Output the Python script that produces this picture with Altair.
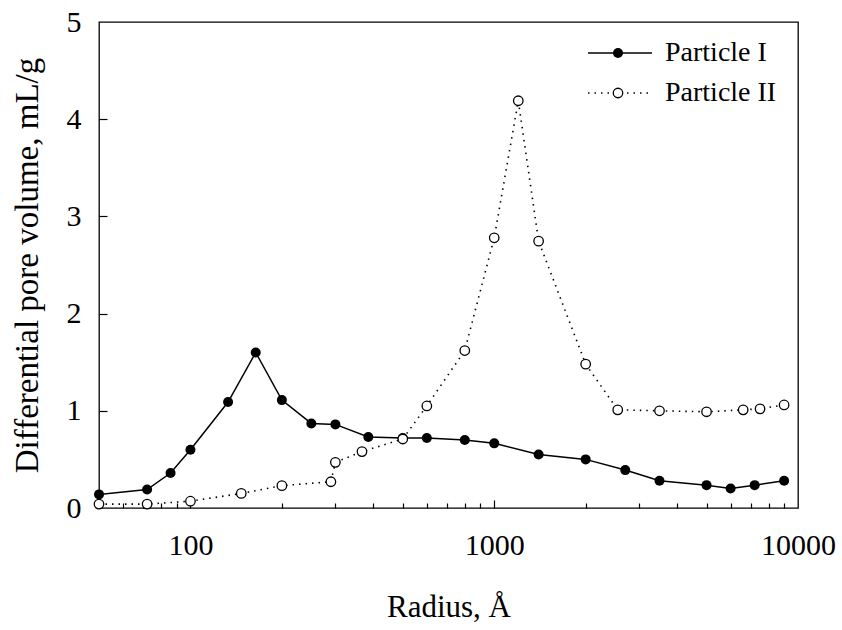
import altair as alt
import pandas as pd

# Particle I (filled circles, solid line)
radius_1 = [50, 72, 86, 100, 133, 164, 200, 250, 300, 385, 500, 600, 800, 1000,
            1400, 2000, 2700, 3500, 5000, 6000, 7200, 9000]
volume_1 = [0.14, 0.19, 0.36, 0.60, 1.09, 1.60, 1.11, 0.87, 0.86, 0.73, 0.72, 0.72,
            0.70, 0.665, 0.55, 0.50, 0.39, 0.28, 0.235, 0.20, 0.235, 0.28]

# Particle II (open circles, dotted line)
radius_2 = [50, 72, 100, 147, 200, 290, 300, 367, 500, 600, 800, 1000, 1200, 1400,
            2000, 2550, 3500, 5000, 6600, 7500, 9000]
volume_2 = [0.04, 0.04, 0.07, 0.15, 0.23, 0.27, 0.47, 0.58, 0.71, 1.05, 1.62, 2.78,
            4.19, 2.745, 1.48, 1.01, 1.00, 0.99, 1.01, 1.02, 1.06]

series_names = ["Particle I", "Particle II"]
x_labels = [100, 1000, 10000]
x_minor = [60, 70, 80, 90, 200, 300, 400, 500, 600, 700, 800, 900,
           2000, 3000, 4000, 5000, 6000, 7000, 8000, 9000]
x_major = [100, 1000]
y_labels = [0, 1, 2, 3, 4, 5]
y_major = [1, 2, 3, 4]

df1 = pd.DataFrame({"r": radius_1, "v": volume_1})
df2 = pd.DataFrame({"r": radius_2, "v": volume_2})

FONT = "Liberation Serif"
W, H = 699, 486

xs = alt.Scale(type="log", domain=[50, 10000], nice=False)
ys = alt.Scale(domain=[0, 5], nice=False, zero=False)

ax_x_main = alt.Axis(orient="bottom", values=x_labels, format="d", labelFontSize=30,
                     labelFont=FONT, labelPadding=22, labelFlush=False,
                     labelColor="black", ticks=False, domain=False, grid=False,
                     title="Radius, Å", titleFont=FONT, titleFontSize=31,
                     titleFontWeight="normal", titleColor="black", titleX=W / 2,
                     titleY=108, titleBaseline="alphabetic", titleAlign="center")
ax_y_main = alt.Axis(orient="left", values=y_labels, format="d", labelFontSize=30,
                     labelFont=FONT, labelPadding=18, labelFlush=False,
                     labelColor="black", ticks=False, domain=False, grid=False,
                     title="Differential pore volume, mL/g", titleFont=FONT,
                     titleFontSize=33, titleFontWeight="normal", titleColor="black",
                     titleX=-62, titleY=H / 2, titleAngle=270,
                     titleBaseline="alphabetic", titleAlign="center")
ax_x_minor = alt.Axis(orient="bottom", values=x_minor, offset=-5, tickSize=5,
                      tickColor="black", tickWidth=1.2, labels=False, domain=False,
                      grid=False, title="")
ax_x_major = alt.Axis(orient="bottom", values=x_major, offset=-8, tickSize=8,
                      tickColor="black", tickWidth=1.2, labels=False, domain=False,
                      grid=False, title="")
ax_y_ticks = alt.Axis(orient="left", values=y_major, offset=-8, tickSize=8,
                      tickColor="black", tickWidth=1.2, labels=False, domain=False,
                      grid=False, title="")

line1 = alt.Chart(df1).mark_line(color="black", strokeWidth=1.5).encode(
    x=alt.X("r:Q", scale=xs, axis=ax_x_main),
    y=alt.Y("v:Q", scale=ys, axis=ax_y_main),
)
pts1 = alt.Chart(df1).mark_point(shape="circle", filled=True, color="black",
                                 size=100, opacity=1).encode(
    x=alt.X("r:Q", scale=xs, axis=ax_x_minor),
    y=alt.Y("v:Q", scale=ys, axis=ax_y_ticks),
)
line2 = alt.Chart(df2).mark_line(color="black", strokeWidth=1.6,
                                 strokeDash=[1.5, 5]).encode(
    x=alt.X("r:Q", scale=xs, axis=ax_x_major),
    y=alt.Y("v:Q", scale=ys, axis=None),
)
pts2 = alt.Chart(df2).mark_point(shape="circle", filled=False, fill="white",
                                 stroke="black", strokeWidth=1.3, size=90,
                                 opacity=1).encode(
    x=alt.X("r:Q", scale=xs, axis=None),
    y=alt.Y("v:Q", scale=ys, axis=None),
)

# legend (drawn by hand, in pixel space of the plot area)
leg_rows = [31, 71]
leg_x0, leg_x1, leg_cx, leg_tx = 489, 553, 519, 566
legend_layers = []
legend_layers.append(alt.Chart().mark_rule(color="black", strokeWidth=1.5).encode(
    x=alt.value(leg_x0), x2=alt.value(leg_x1), y=alt.value(leg_rows[0])))
legend_layers.append(alt.Chart().mark_point(shape="circle", filled=True, color="black",
                                            size=100, opacity=1).encode(
    x=alt.value(leg_cx), y=alt.value(leg_rows[0])))
legend_layers.append(alt.Chart().mark_rule(color="black", strokeWidth=1.6,
                                           strokeDash=[1.5, 5]).encode(
    x=alt.value(leg_x0), x2=alt.value(leg_x1), y=alt.value(leg_rows[1])))
legend_layers.append(alt.Chart().mark_point(shape="circle", filled=False, fill="white",
                                            stroke="black", strokeWidth=1.3, size=90,
                                            opacity=1).encode(
    x=alt.value(leg_cx), y=alt.value(leg_rows[1])))
for i, name in enumerate(series_names):
    legend_layers.append(alt.Chart().mark_text(align="left", baseline="middle",
                                               fontSize=28, font=FONT,
                                               color="black").encode(
        x=alt.value(leg_tx), y=alt.value(leg_rows[i]), text=alt.value(name)))

chart = alt.layer(line1, pts1, line2, pts2, *legend_layers).resolve_axis(
    x="independent", y="independent"
).properties(
    width=W, height=H,
    autosize=alt.AutoSizeParams(type="none"),
    padding={"left": 99, "top": 22, "right": 44, "bottom": 122},
).configure(
    font=FONT,
    background="white",
).configure_view(
    stroke="black", strokeWidth=1.3,
)

chart.save("out.html", embed_options={"renderer": "svg", "actions": False})
